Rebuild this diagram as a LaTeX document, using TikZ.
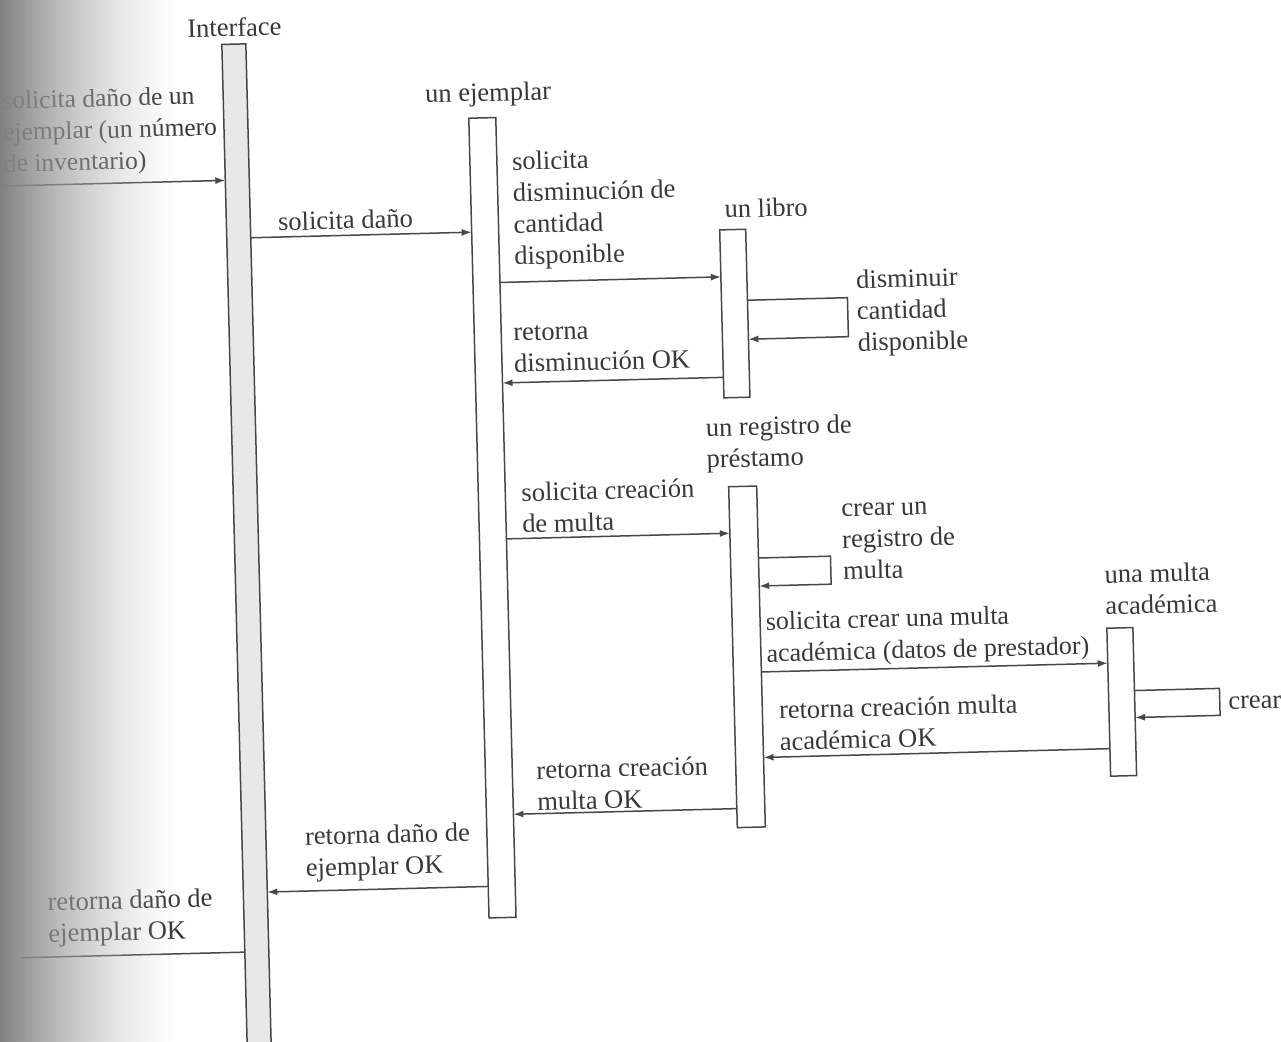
\documentclass[tikz,border=0pt]{standalone}
\usepackage{fontspec}
\setmainfont{Liberation Serif}
\usetikzlibrary{arrows.meta,calc,fadings}
\tikzfading[name=bandfade, left color=transparent!0, right color=transparent!100]
\pgfdeclarehorizontalshading{bandshade}{100bp}{color(0bp)=(black!64); color(50bp)=(black!35); color(100bp)=(black!8)}
\begin{document}
\begin{tikzpicture}[x=1pt,y=-1pt,
  lbl/.style={font=\fontsize{26.5}{31.5}\selectfont, text=black!78, align=left, inner sep=0pt, anchor=west, transform shape},
  ttl/.style={font=\fontsize{26.5}{31.5}\selectfont, text=black!78, align=left, inner sep=0pt, transform shape},
  lifebar/.style={draw=black!72, line width=1.5pt, fill=white, inner sep=0pt, outer sep=0pt, anchor=north west, transform shape},
  msg/.style={draw=black!72, line width=1.5pt, -{Latex[length=10pt,width=7pt]}},
  plainmsg/.style={draw=black!72, line width=1.5pt}]
\clip (0,0) rectangle (1281,1041);
\fill[white] (0,0) rectangle (1281,1041);
\begin{scope}[rotate around={1.45:(640,520)}]
  % lifelines / activation bars
  \node[lifebar, fill=black!9, minimum width=24, minimum height=1080] (iface) at (234,34) {};
  \node[lifebar, minimum width=27, minimum height=800] (ejem) at (479,114) {};
  \node[lifebar, minimum width=26, minimum height=168] (libro) at (727,232) {};
  \node[lifebar, minimum width=28, minimum height=341] (reg) at (729.5,489) {};
  \node[lifebar, minimum width=26, minimum height=148] (multa) at (1104,640) {};
  % titles
  \node[ttl] (tiface) at (247,17) {Interface};
  \node[ttl] (tejem) at (499,91) {un ejemplar};
  \node[ttl] (tlibro) at (774,211) {un libro};
  \node[ttl, anchor=west] (treg) at (708,447.5) {un registro de\\préstamo};
  \node[ttl, anchor=west] (tmulta) at (1103,601.7) {una multa\\académica};
  % free ends
  \coordinate (src) at (-10,170);
  \coordinate (dst) at (10,942);
  % messages
  \draw[msg] (src) -- ($(iface.north west)!136pt!(iface.south west)$);
  \draw[msg] ($(iface.north east)!194pt!(iface.south east)$) -- ($(ejem.north west)!114pt!(ejem.south west)$);
  \draw[msg] ($(ejem.north east)!165pt!(ejem.south east)$) -- ($(libro.north west)!47pt!(libro.south west)$);
  \draw[msg] ($(libro.north east)!71pt!(libro.south east)$) -- ++(100,0) -- ++(0,39) -- ($(libro.north east)!110pt!(libro.south east)$);
  \draw[msg] ($(libro.north west)!147.5pt!(libro.south west)$) -- ($(ejem.north east)!265.5pt!(ejem.south east)$);
  \draw[msg] ($(ejem.north east)!421.5pt!(ejem.south east)$) -- ($(reg.north west)!46.5pt!(reg.south west)$);
  \draw[msg] ($(reg.north east)!72pt!(reg.south east)$) -- ++(72,0) -- ++(0,28) -- ($(reg.north east)!100pt!(reg.south east)$);
  \draw[msg] ($(reg.north east)!186pt!(reg.south east)$) -- ($(multa.north west)!35pt!(multa.south west)$);
  \draw[msg] ($(multa.north east)!63pt!(multa.south east)$) -- ++(85,0) -- ++(0,27) -- ($(multa.north east)!90pt!(multa.south east)$);
  \draw[msg] ($(multa.north west)!120.5pt!(multa.south west)$) -- ($(reg.north east)!271.5pt!(reg.south east)$);
  \draw[msg] ($(reg.north west)!322pt!(reg.south west)$) -- ($(ejem.north east)!697pt!(ejem.south east)$);
  \draw[msg] ($(ejem.north west)!768.5pt!(ejem.south west)$) -- ($(iface.north east)!848.5pt!(iface.south east)$);
  \draw[plainmsg] ($(iface.north west)!908pt!(iface.south west)$) -- (dst);
  % labels
  \node[lbl, font=\fontsize{25.5}{31.5}\selectfont] (l1) at (13,118.5) {solicita daño de un\\ejemplar (un número\\de inventario)};
  \node[lbl] (l2) at (285.6,212.5) {solicita daño};
  \node[lbl] (l3) at (521,208) {solicita\\disminución de\\cantidad\\disponible};
  \node[lbl] (l4) at (862,319) {disminuir\\cantidad\\disponible};
  \node[lbl] (l5) at (518,346) {retorna\\disminución OK};
  \node[lbl] (l6) at (522,505) {solicita creación\\de multa};
  \node[lbl] (l7) at (841.5,547) {crear un\\registro de\\multa};
  \node[lbl, font=\fontsize{26}{32}\selectfont] (l8) at (763,643) {solicita crear una multa\\académica (datos de prestador)};
  \node[lbl] (l9) at (1223.4,718) {crear};
  \node[lbl] (l10) at (774,729) {retorna creación multa\\académica OK};
  \node[lbl] (l11) at (530,783) {retorna creación\\multa OK};
  \node[lbl] (l12) at (297,846) {retorna daño de\\ejemplar OK};
  \node[lbl] (l13) at (38,905) {retorna daño de\\ejemplar OK};
\end{scope}
% scanned page edge shadow on the left
\shade[shading=bandshade, path fading=bandfade] (0,0) rectangle (175,1041);
\end{tikzpicture}
\end{document}
